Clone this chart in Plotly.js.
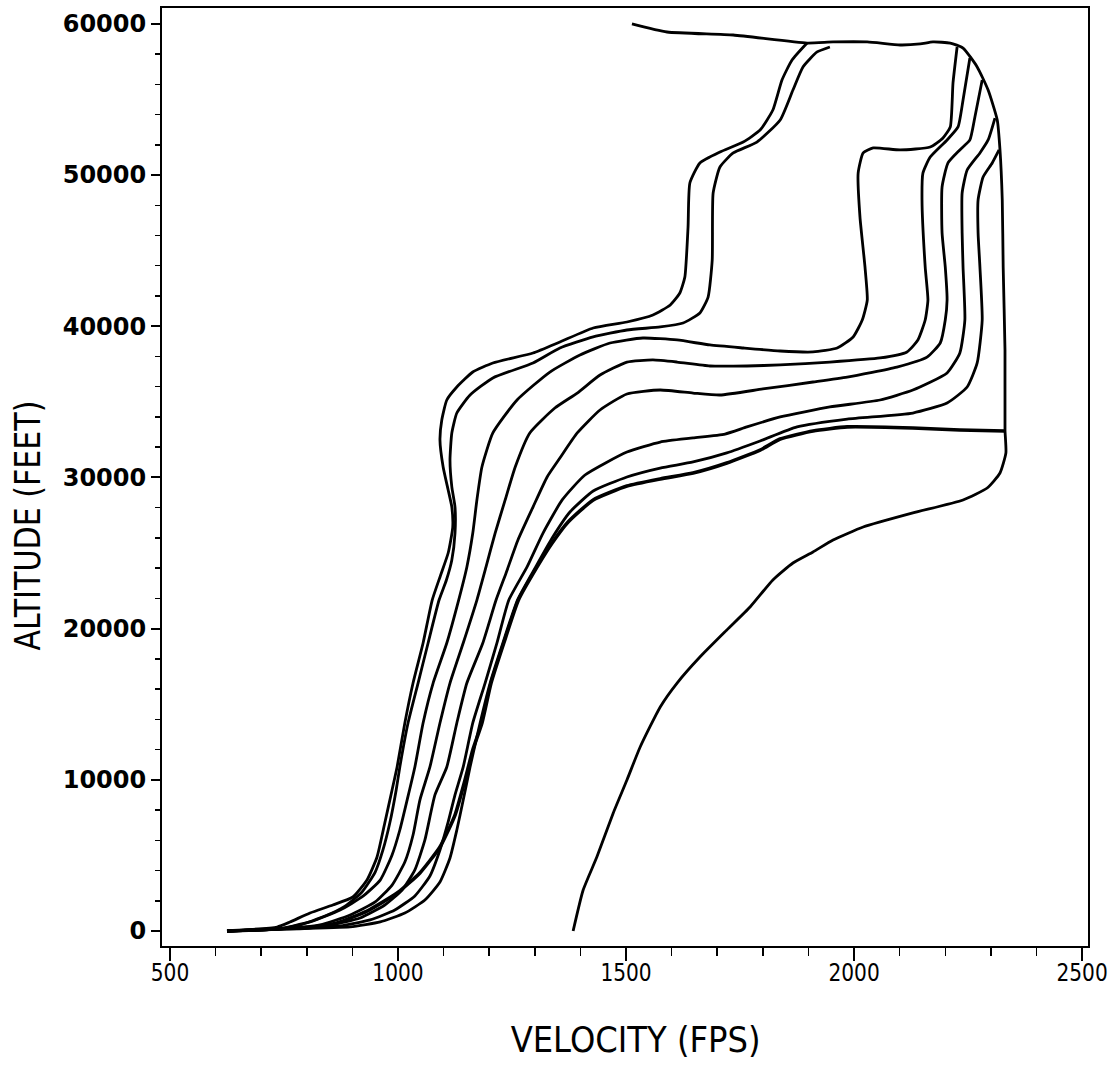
<!DOCTYPE html>
<html>
<head>
<meta charset="utf-8">
<script src="https://cdn.plot.ly/plotly-3.0.1.min.js"></script>
<style>
  html, body { margin: 0; padding: 0; background: #ffffff; }
  #chart { width: 1118px; height: 1072px; }
</style>
</head>
<body>
<div id="chart"></div>
<script>
// Velocity (fps) / altitude (ft) pairs, one trajectory per pair
const velA = [625,735,763,807,857,901,932,954,971,987,998,1015,1033,1055,1075,1093,1110,1120,1118,1110,1099,1092,1096,1107,1129,1164,1208,1296,1355,1428,1502,1559,1597,1618,1629,1636,1640,1662,1706,1757,1794,1822,1842,1864,1897];
const altA = [0,265,595,1191,1720,2249,3373,4894,7143,9326,10847,13757,16403,19048,21890,23500,25000,26700,28043,29168,30689,32475,33798,35120,35980,36972,37568,38229,38957,39882,40279,40742,41404,42197,43256,46563,49473,50796,51522,52184,52978,54301,56285,57608,58732];

const velB = [625,735,785,840,884,921,950,967,982,996,1004,1022,1044,1066,1090,1106,1118,1125,1125,1118,1114,1118,1129,1158,1208,1296,1355,1428,1502,1575,1625,1662,1680,1689,1691,1706,1735,1787,1838,1866,1888,1919,1947];
const altB = [0,130,400,990,1650,2580,3900,5360,7140,9330,10850,13760,16400,19050,21890,23200,24540,26320,28040,29370,31150,32940,34260,35450,36580,37570,38560,39290,39750,39950,40210,40880,41930,44380,48810,50530,51460,52180,53640,55620,57150,58140,58470];

const velC = [625,735,807,873,921,961,987,1004,1020,1037,1055,1077,1107,1133,1151,1164,1173,1184,1208,1261,1333,1399,1465,1537,1612,1684,1757,1838,1910,1963,1998,2018,2029,2024,2013,2009,2020,2042,2101,2167,2195,2211,2217,2226];
const altC = [0,130,600,1390,2250,3370,5030,6680,8660,10850,13760,16400,19050,21890,24080,26320,28510,30690,32940,35120,36970,38100,38890,39220,39090,38760,38560,38360,38300,38560,39290,40410,41730,43920,47220,50130,51460,51790,51660,51850,52450,53180,56090,58470];

const velD = [625,735,829,895,950,987,1015,1033,1048,1070,1092,1114,1143,1173,1193,1213,1235,1257,1289,1344,1393,1443,1502,1559,1612,1684,1765,1838,1947,2057,2116,2140,2156,2162,2156,2149,2151,2167,2204,2228,2239,2254];
const altD = [0,130,400,1060,1920,3040,4560,6350,8660,10850,13760,16400,19050,21890,24080,26320,28510,30690,32940,34590,35580,36770,37630,37770,37630,37370,37370,37440,37630,37900,38300,39090,40410,41730,43920,48350,50130,51190,52320,53180,54960,57740];

const velE = [625,735,851,917,971,1009,1037,1059,1081,1107,1129,1151,1186,1215,1237,1263,1296,1327,1355,1393,1443,1502,1575,1647,1706,1800,1910,1985,2094,2160,2189,2200,2204,2200,2193,2193,2206,2232,2254,2265,2281];
const altE = [0,130,400,860,1720,2710,4040,6020,9000,10850,13760,16400,19050,21890,23680,25860,28040,30030,31280,32940,34460,35520,35780,35580,35450,35850,36310,36640,37300,37960,38890,40410,41730,43920,46170,49210,50800,51660,52320,53840,56290];

const velF = [625,735,873,939,993,1037,1070,1092,1110,1125,1143,1164,1191,1217,1243,1283,1318,1360,1410,1502,1575,1647,1717,1765,1838,1947,2057,2129,2204,2232,2243,2239,2237,2237,2248,2276,2294,2309];
const altF = [0,130,330,730,1390,2320,3640,5360,7210,9000,10850,13760,16400,19050,21890,24080,26320,28510,30160,31680,32340,32610,32870,33340,34000,34660,35120,35780,36910,38230,40410,43920,46170,48810,50330,51460,52320,53770];

const velG = [625,735,895,961,1015,1059,1092,1114,1129,1143,1158,1180,1202,1230,1262,1302,1338,1377,1428,1502,1575,1647,1721,1794,1875,1985,2129,2204,2248,2270,2281,2276,2272,2272,2283,2303,2318];
const altG = [0,130,270,600,1190,2050,3240,4830,6680,8660,10850,13760,16400,19050,21890,24080,25990,27710,29100,30030,30620,31020,31620,32410,33340,33860,34260,34920,35980,37570,40410,43920,46170,48350,49870,50800,51660];

const velH = [625,735,800,866,932,998,1048,1092,1125,1147,1164,1184,1204,1232,1264,1305,1338,1373,1428,1502,1575,1647,1721,1794,1838,1910,1985,2129,2232,2331];
const altH = [0,130,200,530,1320,2510,3840,5560,7670,9990,11970,13760,16400,19050,21890,24080,25660,27050,28510,29430,29900,30290,30950,31810,32540,33070,33340,33270,33140,33070];

const velR = [1384,1406,1436,1472,1502,1531,1575,1612,1662,1721,1772,1822,1866,1910,1954,2020,2129,2239,2292,2320,2333,2331,2331,2327,2325,2320,2314,2294,2270,2239,2211,2173,2145,2101,2029,1954,1897,1735,1590,1513];
const altR = [0,2710,4890,7810,9990,12170,14820,16400,18120,19910,21430,23220,24340,25070,25860,26720,27650,28510,29300,30290,31620,33140,38430,43920,48350,51660,53640,55620,57150,58400,58730,58800,58670,58600,58800,58800,58730,59260,59460,60000];

const xTickVals = [500, 1000, 1500, 2000, 2500];
const xTickText = ['500', '1000', '1500', '2000', '2500'];
const yTickVals = [0, 10000, 20000, 30000, 40000, 50000, 60000];
const yTickText = ['0', '10000', '20000', '30000', '40000', '50000', '60000'];

const xTitle = 'VELOCITY (FPS)';
const yTitle = 'ALTITUDE (FEET)';

const plotterFont = "'DejaVu Sans', sans-serif";

const series = [
  [velA, altA, 2.8], [velB, altB, 2.8], [velC, altC, 2.8], [velD, altD, 2.8],
  [velE, altE, 2.8], [velF, altF, 2.8], [velG, altG, 2.8], [velH, altH, 3.6],
  [velR, altR, 2.8]
];

const traces = series.map(([x, y, w]) => ({
  type: 'scatter', mode: 'lines', x: x, y: y,
  line: { color: '#000000', width: w, shape: 'spline', smoothing: 0.5 },
  hoverinfo: 'skip', showlegend: false
}));

const layout = {
  width: 1118, height: 1072,
  margin: { l: 162, r: 30, t: 8, b: 126 },
  paper_bgcolor: '#ffffff', plot_bgcolor: '#ffffff',
  showlegend: false,
  xaxis: {
    range: [482.5, 2513], tickmode: 'array', tickvals: xTickVals, ticktext: xTickText,
    showline: true, mirror: true, linecolor: '#000', linewidth: 2,
    ticks: 'outside', ticklen: 13, tickwidth: 2, tickcolor: '#000',
    minor: { dtick: 100, tick0: 500, ticks: 'outside', ticklen: 8, tickwidth: 1.5, tickcolor: '#000', showgrid: false },
    showgrid: false, zeroline: false, ticklabelstandoff: -9, ticklabeloverflow: 'allow',
    tickfont: { family: plotterFont, size: 24, color: '#000' }
  },
  yaxis: {
    range: [-992, 61047], tickmode: 'array', tickvals: yTickVals, ticktext: yTickText,
    showline: true, mirror: true, linecolor: '#000', linewidth: 2,
    ticks: 'outside', ticklen: 9, tickwidth: 2, tickcolor: '#000',
    minor: { dtick: 2000, tick0: 0, ticks: 'outside', ticklen: 5, tickwidth: 1.5, tickcolor: '#000', showgrid: false },
    showgrid: false, zeroline: false, ticklabeloverflow: 'allow',
    tickfont: { family: plotterFont, size: 24, color: '#000', weight: 'bold' }
  },
  annotations: [
    { text: xTitle, xref: 'paper', yref: 'paper', x: 0.511, y: -0.1, xanchor: 'center', yanchor: 'middle',
      showarrow: false, font: { family: plotterFont, size: 35, color: '#000' } },
    { text: yTitle, xref: 'paper', yref: 'paper', x: -0.1447, y: 0.448, xanchor: 'center', yanchor: 'middle',
      textangle: -90, showarrow: false, font: { family: plotterFont, size: 35, color: '#000' } }
  ]
};

// condensed plotter-style lettering: squeeze glyphs horizontally, keep text as text
function squeeze(el, width) {
  el.setAttribute('textLength', width.toFixed(1));
  el.setAttribute('lengthAdjust', 'spacingAndGlyphs');
}

Plotly.newPlot('chart', traces, layout, { displayModeBar: false, staticPlot: true }).then(gd => {
  gd.querySelectorAll('.xtick text').forEach(t => squeeze(t, t.getComputedTextLength() * 0.84));
  gd.querySelectorAll('.annotation-text').forEach(t => squeeze(t, 250));
});
</script>
</body>
</html>
